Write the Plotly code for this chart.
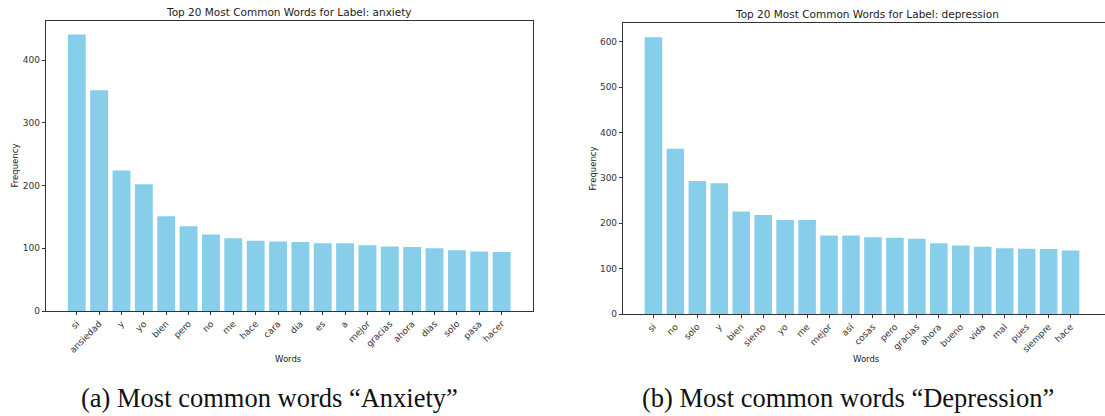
import plotly.graph_objects as go

# ---- data ----
anxiety_words = ["si", "ansiedad", "y", "yo", "bien", "pero", "no", "me", "hace", "cara",
                 "dia", "es", "a", "mejor", "gracias", "ahora", "dias", "solo", "pasa", "hacer"]
anxiety_counts = [441, 352, 224, 202, 151, 135, 122, 116, 112, 111,
                  110, 108, 108, 105, 103, 102, 100, 97, 95, 94]

depression_words = ["si", "no", "solo", "y", "bien", "siento", "yo", "me", "mejor", "así",
                    "cosas", "pero", "gracias", "ahora", "bueno", "vida", "mal", "pues", "siempre", "hace"]
depression_counts = [610, 364, 293, 288, 226, 218, 207, 207, 173, 173,
                     169, 168, 166, 156, 151, 148, 145, 144, 143, 140]

titles = ["Top 20 Most Common Words for Label: anxiety",
          "Top 20 Most Common Words for Label: depression"]
captions = ["(a) Most common words \u201cAnxiety\u201d",
            "(b) Most common words \u201cDepression\u201d"]

W, H = 1105, 416
BAR = "#87CEEB"
AX = "#333333"
FONT = "DejaVu Sans"


def fx(px):
    return px / W


def fy(py):
    return 1 - py / H


fig = go.Figure()
fig.add_trace(go.Bar(x=anxiety_words, y=anxiety_counts, marker_color=BAR,
                     marker_line_width=0, xaxis="x", yaxis="y", showlegend=False))
fig.add_trace(go.Bar(x=depression_words, y=depression_counts, marker_color=BAR,
                     marker_line_width=0, xaxis="x2", yaxis="y2", showlegend=False))

common_x = dict(type="category", showgrid=False, showline=True, linecolor=AX, linewidth=1,
                mirror=True, ticks="outside", ticklen=3, tickcolor=AX, tickwidth=1,
                tickangle=-45, tickfont=dict(family=FONT, size=9, color=AX), zeroline=False,
                automargin=False)
common_y = dict(showgrid=False, showline=True, linecolor=AX, linewidth=1, mirror=True,
                ticks="outside", ticklen=3, tickcolor=AX, tickwidth=1, dtick=100,
                tickfont=dict(family=FONT, size=9, color=AX), zeroline=False,
                automargin=False)

# left panel
x1_dom = [fx(45.7), fx(532.7)]
y1_dom = [fy(311), fy(20.7)]
# right panel (extends to the image edge)
x2_dom = [fx(622.9), 1.0]
y2_dom = [fy(314), fy(23.3)]

n = len(anxiety_words)
pad = 0.4 + 0.05 * (n - 1 + 0.8)
right_extra = (1105 - 1101) / 22.37

fig.update_layout(
    width=W, height=H,
    margin=dict(l=0, r=0, t=0, b=0, autoexpand=False),
    paper_bgcolor="white", plot_bgcolor="white",
    bargap=0.2,
    xaxis=dict(common_x, domain=x1_dom, anchor="y", range=[-pad, n - 1 + pad]),
    yaxis=dict(common_y, domain=y1_dom, anchor="x", range=[0, max(anxiety_counts) * 1.05]),
    xaxis2=dict(common_x, domain=x2_dom, anchor="y2",
                range=[-pad, n - 1 + pad + right_extra]),
    yaxis2=dict(common_y, domain=y2_dom, anchor="x2", range=[0, max(depression_counts) * 1.05]),
)

ann = []
# titles
ann.append(dict(text=titles[0], x=fx(289), y=fy(12), xref="paper", yref="paper",
                showarrow=False, font=dict(family=FONT, size=10.5, color="#222"),
                xanchor="center", yanchor="middle"))
ann.append(dict(text=titles[1], x=fx(866.5), y=fy(14), xref="paper", yref="paper",
                showarrow=False, font=dict(family=FONT, size=10.5, color="#222"),
                xanchor="center", yanchor="middle"))
# axis titles
for xc, yc in [(288.5, 358.5), (866.7, 358.5)]:
    ann.append(dict(text="Words", x=fx(xc), y=fy(yc), xref="paper", yref="paper",
                    showarrow=False, font=dict(family=FONT, size=8.5, color="#222"),
                    xanchor="center", yanchor="middle"))
for xc, yc in [(14.5, 166), (592.7, 168.7)]:
    ann.append(dict(text="Frequency", x=fx(xc), y=fy(yc), xref="paper", yref="paper",
                    showarrow=False, textangle=-90,
                    font=dict(family=FONT, size=8.5, color="#222"),
                    xanchor="center", yanchor="middle"))
# captions
for txt, xc in [(captions[0], 269), (captions[1], 848)]:
    ann.append(dict(text=txt, x=fx(xc), y=fy(398), xref="paper", yref="paper",
                    showarrow=False, font=dict(family="Liberation Serif", size=26.5, color="#111"),
                    xanchor="center", yanchor="middle"))

fig.update_layout(annotations=ann)
fig.write_html(
    "out.html",
    config={"displayModeBar": False},
    post_script="document.body.style.margin='0';document.body.style.padding='0';"
                "document.body.style.overflow='hidden';",
)
